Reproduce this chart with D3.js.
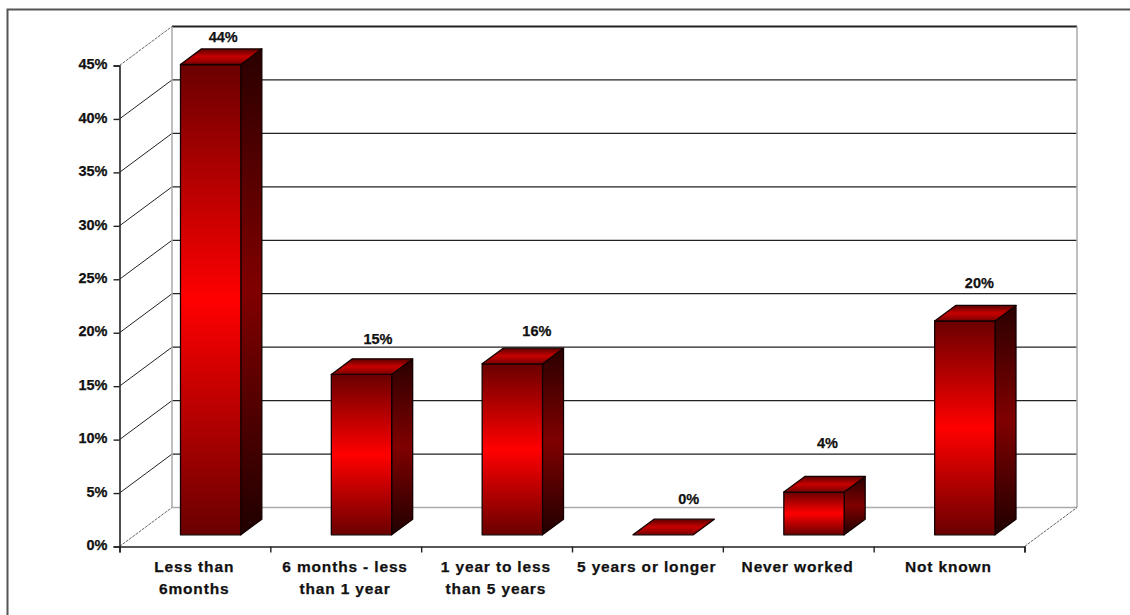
<!DOCTYPE html>
<html>
<head>
<meta charset="utf-8">
<script src="https://cdn.jsdelivr.net/npm/d3@7"></script>
<style>
html,body{margin:0;padding:0;background:#fff;overflow:hidden}
svg{display:block}
text{font-family:"Liberation Sans",Arial,sans-serif;font-weight:700;fill:#111;stroke:#111;stroke-width:0.25px}
</style>
</head>
<body>
<svg id="chart" width="1130" height="615"></svg>
<script>
const categories = ["Less than 6months","6 months - less than 1 year","1 year to less than 5 years","5 years or longer","Never worked","Not known"];
const values = [44,15,16,0,4,20];
const yTicks = [0,5,10,15,20,25,30,35,40,45];
const labelNudgeX = [-3,1,9,10,-2,-1];
const labelNudgeY = [-12,-20,-17,-20,-34,-23];

const svg = d3.select("#chart");
const left = 119.5, right = 1024.5, base = 546.5, top45 = 65.5;
const depthX = 52.5, depthY = -39;
const barNear = 0.3, barFar = 0.7;

const y = d3.scaleLinear().domain([0,45]).range([base,top45]);
const x = d3.scaleBand().domain(categories.map((d,i)=>i)).range([left,right]).paddingInner(0.6).paddingOuter(0.3);
const xEdge = d3.scaleLinear().domain([0,categories.length]).range([left,right]);
const back = (px,py,t=1)=>[px+depthX*t,py+depthY*t];
const line = d3.line();

const defs = svg.append("defs");
function grad(id,c){
  const g = defs.append("linearGradient").attr("id",id).attr("x1",0).attr("y1",0).attr("x2",0).attr("y2",1);
  g.selectAll("stop").data(c).join("stop").attr("offset",(d,i)=>i/(c.length-1)).attr("stop-color",d=>d);
}
grad("front",["#6a0000","#ff0000","#6a0000"]);
grad("side",["#2a0000","#800000","#200000"]);
grad("topf",["#5c0000","#c80000","#7a0000"]);

// outer frame
svg.append("path").attr("d","M7.5,615V9.5H1130").attr("fill","none").attr("stroke","#555").attr("stroke-width",2);

// back wall
const bl = back(left,base), br = back(right,base);
const gridG = svg.append("g");
yTicks.forEach(t=>{
  const p = back(left,y(t)), q = back(right,y(t));
  const soft = t===0;
  gridG.append("path").attr("d",line([p,q])).attr("fill","none")
    .attr("stroke",soft?"#aaa":"#222").attr("stroke-width",soft?1.5:(t===45?2:1.3));
  const edge = t===0||t===45;
  gridG.append("path").attr("d",line([[left,y(t)],p])).attr("fill","none")
    .attr("stroke",edge?"#666":"#222").attr("stroke-width",1)
    .attr("stroke-dasharray",edge?"3 1":null);
});
gridG.append("path").attr("d",line([back(left,top45),bl])).attr("fill","none").attr("stroke","#aaa").attr("stroke-width",1.5);
gridG.append("path").attr("d",line([back(right,top45),br])).attr("fill","none").attr("stroke","#aaa").attr("stroke-width",1.5);
gridG.append("path").attr("d",line([[right,base],br])).attr("fill","none").attr("stroke","#666").attr("stroke-dasharray","3 1");

// axes
const yAxis = svg.append("g").attr("transform",`translate(${left},0)`)
  .call(d3.axisLeft(y).tickValues(yTicks).tickSize(6).tickPadding(6).tickFormat(d=>d+"%"));
const xAxis = svg.append("g").attr("transform",`translate(0,${base})`)
  .call(d3.axisBottom(xEdge).ticks(categories.length).tickSize(6).tickFormat(""));
svg.selectAll(".domain").attr("stroke","#222").attr("stroke-width",1.6);
svg.selectAll(".tick line").attr("stroke","#222").attr("stroke-width",1.4);
yAxis.selectAll("text").style("font-size","14.5px").attr("fill","#111").attr("dy","0.22em");

// bars
const bars = svg.append("g").selectAll("g").data(values).join("g");
bars.each(function(v,i){
  const g = d3.select(this);
  const x0 = x(i)+depthX*barNear, x1 = x0+x.bandwidth();
  const yb = y(0)+depthY*barNear, yt = y(v)+depthY*barNear;
  const dx = depthX*(barFar-barNear), dy = depthY*(barFar-barNear);
  const stroke = {stroke:"#140000","stroke-width":1.3,"stroke-linejoin":"round"};
  const face = (pts,fill)=>{
    const p = g.append("path").attr("d",line(pts)+"Z").attr("fill",fill);
    Object.entries(stroke).forEach(([k,val])=>p.attr(k,val));
  };
  if(v>0){
    face([[x1,yt],[x1+dx,yt+dy],[x1+dx,yb+dy],[x1,yb]],"url(#side)");
    face([[x0,yt],[x1,yt],[x1,yb],[x0,yb]],"url(#front)");
  }
  face([[x0,yt],[x1,yt],[x1+dx,yt+dy],[x0+dx,yt+dy]],"url(#topf)");
  g.append("text")
    .attr("x",x(i)+x.bandwidth()/2+depthX*barNear+dx/2+labelNudgeX[i]+5)
    .attr("y",yt+dy+labelNudgeY[i])
    .attr("dy","0.36em").attr("text-anchor","middle")
    .style("font-size","14.5px").text(v+"%");
});

// category labels, wrapped to the band
const maxW = 145;
const catG = svg.append("g");
categories.forEach((c,i)=>{
  const cx = x(i)+x.bandwidth()/2-0.7;
  const t = catG.append("text").attr("text-anchor","middle")
    .attr("x",cx).attr("y",571.5)
    .style("font-size","15.5px").style("letter-spacing","0.85px");
  let cur = [];
  let span = t.append("tspan").attr("x",cx);
  c.split(" ").forEach(w=>{
    cur.push(w);
    span.text(cur.join(" "));
    if(span.node().getComputedTextLength()>maxW && cur.length>1){
      cur.pop(); span.text(cur.join(" "));
      cur=[w];
      span = t.append("tspan").attr("x",cx).attr("dy",22).text(w);
    }
  });
});
</script>
</body>
</html>
